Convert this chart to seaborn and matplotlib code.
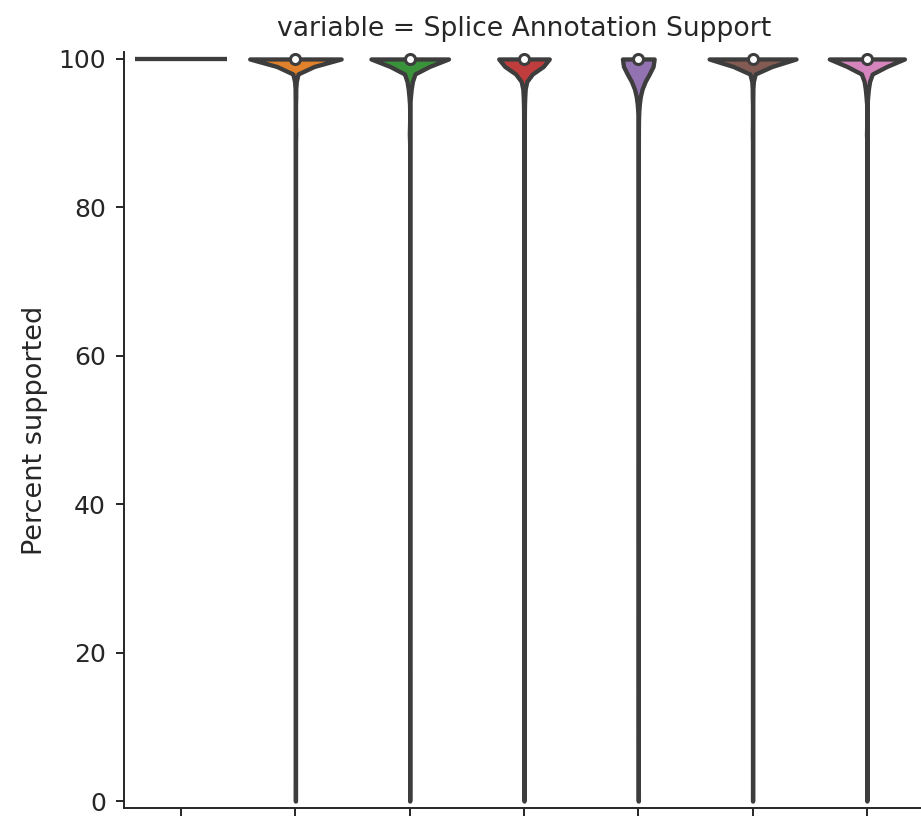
import numpy as np
import pandas as pd
import seaborn as sns
import matplotlib.pyplot as plt

sns.set_theme(style="ticks", context="notebook", rc={
    "xtick.labelsize": 18,
    "ytick.labelsize": 18,
    "axes.labelsize": 19.5,
    "axes.titlesize": 19.2,
    "xtick.major.size": 6,
    "ytick.major.size": 6,
    "ytick.major.pad": 7,
    "axes.linewidth": 1.4,
    "xtick.major.width": 1.4,
    "ytick.major.width": 1.4,
})

# Categories (tick labels fall below the visible crop)
tools = ["FLAIR", "StringTie2", "TALON", "Bambu", "IsoQuant", "FLAMES", "Mandalorion"]

# Percent supported values and how many transcripts share each value
flair_vals = [100]
flair_cnts = [1000]

stringtie_vals = [100, 99, 98, 97, 95, 90, 70, 40, 0]
stringtie_cnts = [920, 30, 20, 10, 6, 5, 1, 1, 1]

talon_vals = [100, 99, 98, 97, 96, 95, 90, 20, 0]
talon_cnts = [830, 60, 50, 30, 15, 10, 8, 1, 1]

bambu_vals = [100, 99, 98, 97, 95, 92, 85, 70, 50, 25, 20, 0]
bambu_cnts = [850, 40, 30, 20, 20, 12, 12, 8, 3, 2, 1, 1]

isoquant_vals = [100, 99, 98, 97, 96, 95, 90, 85, 75, 60, 40, 20, 10, 5, 0]
isoquant_cnts = [780, 60, 50, 40, 30, 20, 5, 4, 3, 3, 3, 3, 2, 1, 5]

flames_vals = [100, 99, 98, 97, 95, 90, 60, 30, 0]
flames_cnts = [930, 25, 15, 10, 6, 5, 1, 1, 1]

mando_vals = [100, 99, 98, 97, 96, 95, 90, 70, 20, 0]
mando_cnts = [822, 60, 50, 30, 15, 12, 8, 1, 1, 1]

all_vals = [flair_vals, stringtie_vals, talon_vals, bambu_vals,
            isoquant_vals, flames_vals, mando_vals]
all_cnts = [flair_cnts, stringtie_cnts, talon_cnts, bambu_cnts,
            isoquant_cnts, flames_cnts, mando_cnts]

frames = []
for tool, vals, cnts in zip(tools, all_vals, all_cnts):
    frames.append(pd.DataFrame({"tool": tool,
                                "value": np.repeat(vals, cnts).astype(float)}))
df = pd.concat(frames, ignore_index=True)
df["variable"] = "Splice Annotation Support"

# groups with spread get a shared (area) density scale
spread = df[df["tool"] != tools[0]]
single = df[df["tool"] == tools[0]]

edge = "#3d3d3d"

g = sns.catplot(data=spread, x="tool", y="value", hue="tool", col="variable",
                kind="violin", cut=0, palette="tab10", legend=False,
                common_norm=True, linewidth=3.1, bw_adjust=0.73, inner=None,
                linecolor=edge,
                order=tools, hue_order=tools, height=6, aspect=1)
ax = g.ax
# the group whose values are all identical is drawn as a flat line
sns.violinplot(data=single, x="tool", y="value", hue="tool", cut=0,
               palette="tab10", legend=False, linewidth=3.1, inner=None,
               linecolor=edge,
               order=tools, hue_order=tools, ax=ax)

# median markers (white dots) for the groups with spread
med = spread.groupby("tool")["value"].median().reindex(tools[1:]).reset_index()
sns.scatterplot(data=med, x="tool", y="value", ax=ax, color="white",
                edgecolor=edge, linewidth=2.2, s=52, zorder=5, legend=False)

fig = g.figure
fig.set_size_inches(9.21, 8.16)
ax.set_position([124 / 921, 8 / 816, 800 / 921, 756 / 816])
ax.set_ylim(-0.94, 100.94)
ax.set_xlim(-0.5, 6.5)
ax.set_xlabel("")
ax.set_ylabel("Percent supported", labelpad=7.5)
ax.set_yticks([0, 20, 40, 60, 80, 100])
ax.set_title("variable = Splice Annotation Support", pad=11.5)

fig.savefig("out.png", dpi=100)
